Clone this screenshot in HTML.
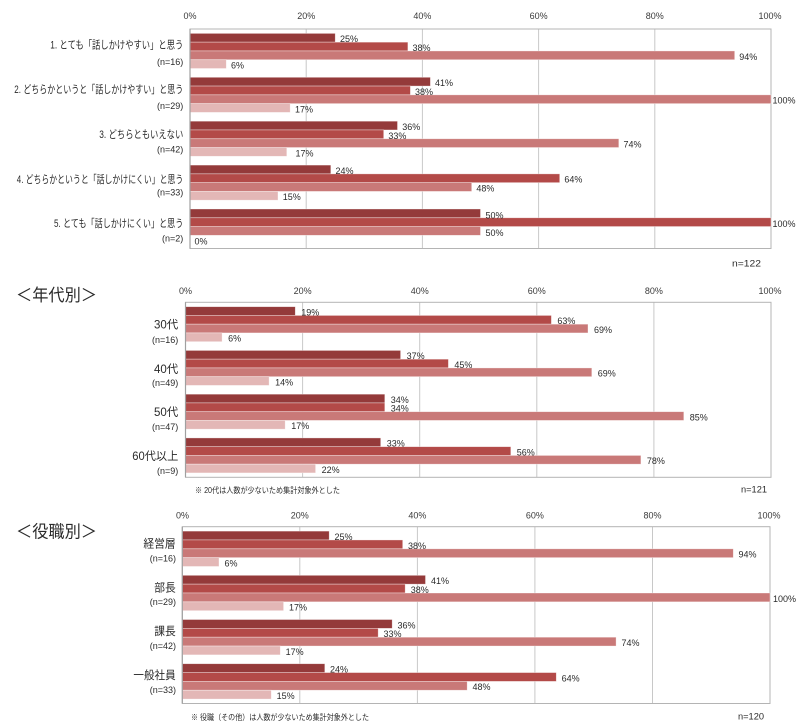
<!DOCTYPE html>
<html><head><meta charset="utf-8"><style>
html,body{margin:0;padding:0;background:#fff;}
svg{display:block;}
text{font-family:"Liberation Sans","Noto Sans CJK JP",sans-serif;fill:#2a2a2a;}
.t{font-size:9px;fill:#3a3a3a;text-anchor:middle;}
.d{font-size:9px;}
.c1{fill:#943a3a;}
.c2{fill:#b34a48;}
.c3{fill:#c97978;}
.c4{fill:#e3b7b6;}
rect.b{stroke:rgba(255,255,255,0.5);stroke-width:0.7;}
.g{stroke:#c8c8c8;stroke-width:1;}
.fr{fill:none;stroke:#b4b4b4;stroke-width:1;}
.ax{stroke:#a0a0a0;stroke-width:1.2;}
.cl{font-size:11px;text-anchor:end;}
.cm{font-size:11.5px;text-anchor:end;}
.n{font-size:9px;text-anchor:end;}
.ti{font-size:17px;}
.fn{font-size:8px;}
</style></head><body>
<svg width="800" height="725" viewBox="0 0 800 725" xmlns="http://www.w3.org/2000/svg">
<!-- ===== TOP CHART ===== -->
<g>
<line class="g" x1="306.2" y1="29" x2="306.2" y2="248.5"/>
<line class="g" x1="422.4" y1="29" x2="422.4" y2="248.5"/>
<line class="g" x1="538.6" y1="29" x2="538.6" y2="248.5"/>
<line class="g" x1="654.8" y1="29" x2="654.8" y2="248.5"/>
<rect class="fr" x="190" y="29" width="581" height="219.5"/>
<text class="t" x="190" y="18.8">0%</text>
<text class="t" x="306.2" y="18.8">20%</text>
<text class="t" x="422.4" y="18.8">40%</text>
<text class="t" x="538.6" y="18.8">60%</text>
<text class="t" x="654.8" y="18.8">80%</text>
<text class="t" x="770" y="18.8">100%</text>

<rect class="b c1" x="190" y="33.39" width="145.25" height="8.78"/>
<rect class="b c2" x="190" y="42.17" width="217.88" height="8.78"/>
<rect class="b c3" x="190" y="50.95" width="544.69" height="8.78"/>
<rect class="b c4" x="190" y="59.73" width="36.31" height="8.78"/>

<rect class="b c1" x="190" y="77.29" width="240.4" height="8.78"/>
<rect class="b c2" x="190" y="86.07" width="220.4" height="8.78"/>
<rect class="b c3" x="190" y="94.85" width="581" height="8.78"/>
<rect class="b c4" x="190" y="103.63" width="100.2" height="8.78"/>

<rect class="b c1" x="190" y="121.19" width="207.5" height="8.78"/>
<rect class="b c2" x="190" y="129.97" width="193.7" height="8.78"/>
<rect class="b c3" x="190" y="138.75" width="428.8" height="8.78"/>
<rect class="b c4" x="190" y="147.53" width="96.8" height="8.78"/>

<rect class="b c1" x="190" y="165.09" width="140.8" height="8.78"/>
<rect class="b c2" x="190" y="173.87" width="369.7" height="8.78"/>
<rect class="b c3" x="190" y="182.65" width="281.7" height="8.78"/>
<rect class="b c4" x="190" y="191.43" width="88" height="8.78"/>

<rect class="b c1" x="190" y="208.99" width="290.5" height="8.78"/>
<rect class="b c2" x="190" y="217.77" width="581" height="8.78"/>
<rect class="b c3" x="190" y="226.55" width="290.5" height="8.78"/>

<line class="ax" x1="190" y1="29" x2="190" y2="248.5"/>

<text class="d" x="340" y="42.2">25%</text>
<text class="d" x="412.5" y="51">38%</text>
<text class="d" x="739.3" y="59.8">94%</text>
<text class="d" x="231" y="68.5">6%</text>

<text class="d" x="435" y="86.1">41%</text>
<text class="d" x="415" y="94.9">38%</text>
<text class="d" x="772.5" y="103.7">100%</text>
<text class="d" x="295" y="112.4">17%</text>

<text class="d" x="402.2" y="130">36%</text>
<text class="d" x="388.4" y="138.8">33%</text>
<text class="d" x="623.5" y="147.6">74%</text>
<text class="d" x="295.5" y="156.3">17%</text>

<text class="d" x="335.5" y="173.9">24%</text>
<text class="d" x="564.4" y="182.7">64%</text>
<text class="d" x="476.4" y="191.5">48%</text>
<text class="d" x="282.7" y="200.2">15%</text>

<text class="d" x="485.5" y="218.3">50%</text>
<text class="d" x="772.5" y="227.1">100%</text>
<text class="d" x="485.5" y="235.9">50%</text>
<text class="d" x="194.5" y="244.6">0%</text>

<text class="cl" x="183.3" y="48.6" textLength="133" lengthAdjust="spacingAndGlyphs">1. とても「話しかけやすい」と思う</text>
<text class="cl" x="183.3" y="93.2" textLength="169" lengthAdjust="spacingAndGlyphs">2. どちらかというと「話しかけやすい」と思う</text>
<text class="cl" x="183.3" y="138.2" textLength="84" lengthAdjust="spacingAndGlyphs">3. どちらともいえない</text>
<text class="cl" x="183.3" y="182.9" textLength="166.5" lengthAdjust="spacingAndGlyphs">4. どちらかというと「話しかけにくい」と思う</text>
<text class="cl" x="183.3" y="227.2" textLength="129.3" lengthAdjust="spacingAndGlyphs">5. とても「話しかけにくい」と思う</text>

<text class="n" x="183.3" y="64.9">(n=16)</text>
<text class="n" x="183.3" y="108.9">(n=29)</text>
<text class="n" x="183.3" y="152.5">(n=42)</text>
<text class="n" x="183.3" y="195.5">(n=33)</text>
<text class="n" x="183.3" y="241.5">(n=2)</text>

<text class="d" x="732" y="266.3" textLength="29" lengthAdjust="spacingAndGlyphs">n=122</text>
</g>

<!-- ===== MIDDLE CHART ===== -->
<g>
<text class="ti" x="16" y="301" textLength="81" lengthAdjust="spacingAndGlyphs">＜年代別＞</text>
<line class="g" x1="302.6" y1="302.3" x2="302.6" y2="477.3"/>
<line class="g" x1="419.7" y1="302.3" x2="419.7" y2="477.3"/>
<line class="g" x1="536.8" y1="302.3" x2="536.8" y2="477.3"/>
<line class="g" x1="653.9" y1="302.3" x2="653.9" y2="477.3"/>
<rect class="fr" x="185.5" y="302.3" width="585.5" height="175"/>
<text class="t" x="185.5" y="294">0%</text>
<text class="t" x="302.6" y="294">20%</text>
<text class="t" x="419.7" y="294">40%</text>
<text class="t" x="536.8" y="294">60%</text>
<text class="t" x="653.9" y="294">80%</text>
<text class="t" x="770" y="294">100%</text>

<rect class="b c1" x="185.5" y="306.68" width="109.8" height="8.75"/>
<rect class="b c2" x="185.5" y="315.43" width="365.9" height="8.75"/>
<rect class="b c3" x="185.5" y="324.18" width="402.5" height="8.75"/>
<rect class="b c4" x="185.5" y="332.93" width="36.6" height="8.75"/>

<rect class="b c1" x="185.5" y="350.43" width="215.1" height="8.75"/>
<rect class="b c2" x="185.5" y="359.18" width="262.9" height="8.75"/>
<rect class="b c3" x="185.5" y="367.93" width="406.3" height="8.75"/>
<rect class="b c4" x="185.5" y="376.68" width="83.6" height="8.75"/>

<rect class="b c1" x="185.5" y="394.18" width="199.3" height="8.75"/>
<rect class="b c2" x="185.5" y="402.93" width="199.3" height="8.75"/>
<rect class="b c3" x="185.5" y="411.68" width="498.3" height="8.75"/>
<rect class="b c4" x="185.5" y="420.43" width="99.7" height="8.75"/>

<rect class="b c1" x="185.5" y="437.93" width="195.2" height="8.75"/>
<rect class="b c2" x="185.5" y="446.68" width="325.3" height="8.75"/>
<rect class="b c3" x="185.5" y="455.43" width="455.4" height="8.75"/>
<rect class="b c4" x="185.5" y="464.18" width="130.1" height="8.75"/>

<line class="ax" x1="185.5" y1="302.3" x2="185.5" y2="477.3"/>

<text class="d" x="301.3" y="315.5">19%</text>
<text class="d" x="557.4" y="324.2">63%</text>
<text class="d" x="594" y="333">69%</text>
<text class="d" x="228.1" y="341.7">6%</text>

<text class="d" x="406.6" y="359.2">37%</text>
<text class="d" x="454.4" y="368">45%</text>
<text class="d" x="597.8" y="376.7">69%</text>
<text class="d" x="275.1" y="385.5">14%</text>

<text class="d" x="390.8" y="403">34%</text>
<text class="d" x="390.8" y="411.7">34%</text>
<text class="d" x="689.8" y="420.5">85%</text>
<text class="d" x="291.2" y="429.2">17%</text>

<text class="d" x="386.7" y="446.7">33%</text>
<text class="d" x="516.8" y="455.5">56%</text>
<text class="d" x="646.9" y="464.2">78%</text>
<text class="d" x="321.6" y="473">22%</text>

<text class="cm" x="178.3" y="328.5" textLength="24.3" lengthAdjust="spacingAndGlyphs">30代</text>
<text class="cm" x="178.3" y="372.9" textLength="24.3" lengthAdjust="spacingAndGlyphs">40代</text>
<text class="cm" x="178.3" y="415.9" textLength="24.3" lengthAdjust="spacingAndGlyphs">50代</text>
<text class="cm" x="178.3" y="460.2" textLength="46" lengthAdjust="spacingAndGlyphs">60代以上</text>

<text class="n" x="178.3" y="343.2">(n=16)</text>
<text class="n" x="178.3" y="385.9">(n=49)</text>
<text class="n" x="178.3" y="429.9">(n=47)</text>
<text class="n" x="178.3" y="474.2">(n=9)</text>

<text class="fn" x="195" y="492.8" textLength="145" lengthAdjust="spacingAndGlyphs">※ 20代は人数が少ないため集計対象外とした</text>
<text class="d" x="741" y="492.3" textLength="26" lengthAdjust="spacingAndGlyphs">n=121</text>
</g>

<!-- ===== BOTTOM CHART ===== -->
<g>
<text class="ti" x="16" y="537.7" textLength="81" lengthAdjust="spacingAndGlyphs">＜役職別＞</text>
<line class="g" x1="299.8" y1="526.7" x2="299.8" y2="703.5"/>
<line class="g" x1="417.4" y1="526.7" x2="417.4" y2="703.5"/>
<line class="g" x1="534.9" y1="526.7" x2="534.9" y2="703.5"/>
<line class="g" x1="652.5" y1="526.7" x2="652.5" y2="703.5"/>
<rect class="fr" x="182.3" y="526.7" width="587.7" height="176.8"/>
<text class="t" x="182.5" y="518.3">0%</text>
<text class="t" x="299.8" y="518.3">20%</text>
<text class="t" x="417.4" y="518.3">40%</text>
<text class="t" x="534.9" y="518.3">60%</text>
<text class="t" x="652.5" y="518.3">80%</text>
<text class="t" x="769" y="518.3">100%</text>

<rect class="b c1" x="182.3" y="531.12" width="146.9" height="8.84"/>
<rect class="b c2" x="182.3" y="539.96" width="220.4" height="8.84"/>
<rect class="b c3" x="182.3" y="548.8" width="551" height="8.84"/>
<rect class="b c4" x="182.3" y="557.64" width="36.7" height="8.84"/>

<rect class="b c1" x="182.3" y="575.32" width="243.2" height="8.84"/>
<rect class="b c2" x="182.3" y="584.16" width="222.9" height="8.84"/>
<rect class="b c3" x="182.3" y="593" width="587.7" height="8.84"/>
<rect class="b c4" x="182.3" y="601.84" width="101.3" height="8.84"/>

<rect class="b c1" x="182.3" y="619.52" width="209.9" height="8.84"/>
<rect class="b c2" x="182.3" y="628.36" width="195.9" height="8.84"/>
<rect class="b c3" x="182.3" y="637.2" width="433.8" height="8.84"/>
<rect class="b c4" x="182.3" y="646.04" width="98" height="8.84"/>

<rect class="b c1" x="182.3" y="663.72" width="142.5" height="8.84"/>
<rect class="b c2" x="182.3" y="672.56" width="374" height="8.84"/>
<rect class="b c3" x="182.3" y="681.4" width="284.9" height="8.84"/>
<rect class="b c4" x="182.3" y="690.24" width="89" height="8.84"/>

<line class="ax" x1="182.3" y1="526.7" x2="182.3" y2="703.5"/>

<text class="d" x="334.5" y="539.9">25%</text>
<text class="d" x="408" y="548.8">38%</text>
<text class="d" x="738.5" y="557.6">94%</text>
<text class="d" x="224.5" y="566.4">6%</text>

<text class="d" x="431" y="584.1">41%</text>
<text class="d" x="410.8" y="593">38%</text>
<text class="d" x="773" y="601.8">100%</text>
<text class="d" x="289" y="610.6">17%</text>

<text class="d" x="397.5" y="628.3">36%</text>
<text class="d" x="383.5" y="637.2">33%</text>
<text class="d" x="621.5" y="646">74%</text>
<text class="d" x="285.6" y="654.8">17%</text>

<text class="d" x="330" y="672.5">24%</text>
<text class="d" x="561.6" y="681.4">64%</text>
<text class="d" x="472.5" y="690.2">48%</text>
<text class="d" x="276.6" y="699">15%</text>

<text class="cm" x="175.7" y="547.5" textLength="32.3" lengthAdjust="spacingAndGlyphs">経営層</text>
<text class="cm" x="175.7" y="591.5" textLength="21.5" lengthAdjust="spacingAndGlyphs">部長</text>
<text class="cm" x="175.7" y="634.9" textLength="21.5" lengthAdjust="spacingAndGlyphs">課長</text>
<text class="cm" x="175.7" y="679.2" textLength="42.3" lengthAdjust="spacingAndGlyphs">一般社員</text>

<text class="n" x="176" y="561.5">(n=16)</text>
<text class="n" x="176" y="604.9">(n=29)</text>
<text class="n" x="176" y="648.9">(n=42)</text>
<text class="n" x="176" y="693.2">(n=33)</text>

<text class="fn" x="191" y="719.8" textLength="178" lengthAdjust="spacingAndGlyphs">※ 役職（その他）は人数が少ないため集計対象外とした</text>
<text class="d" x="738" y="719.3" textLength="26" lengthAdjust="spacingAndGlyphs">n=120</text>
</g>
</svg>
</body></html>
